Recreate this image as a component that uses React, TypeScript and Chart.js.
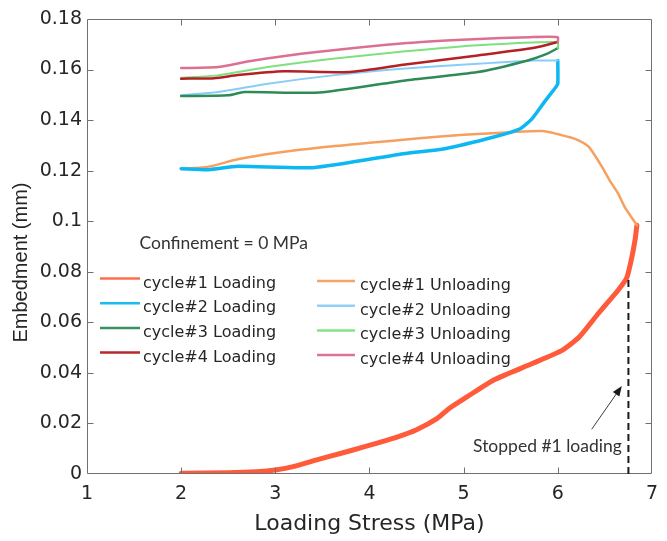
import React, { useEffect, useRef } from "react";
import { Chart, registerables } from "chart.js";

Chart.register(...registerables);

// ---- axes ----
const xMin = 1;
const xMax = 7;
const xStep = 1;
const yMin = 0;
const yMax = 0.18;
const yStep = 0.02;
const xTitle = "Loading Stress (MPa)";
const yTitle = "Embedment (mm)";

// ---- series ----
const c1LoadX = [2.0, 2.5, 2.8, 3.0, 3.2, 3.43, 3.7, 3.95, 4.3, 4.5, 4.72, 4.85, 5.04, 5.32, 5.73, 6.05, 6.23, 6.43, 6.64, 6.73, 6.78, 6.82, 6.84];
const c1LoadY = [0.0003, 0.0005, 0.0009, 0.0016, 0.003, 0.0055, 0.0082, 0.0108, 0.0147, 0.0175, 0.022, 0.026, 0.0306, 0.0372, 0.0437, 0.049, 0.0543, 0.0635, 0.0727, 0.0774, 0.0846, 0.0925, 0.0984];

const c1UnloadX = [6.84, 6.71, 6.64, 6.55, 6.47, 6.33, 6.22, 6.12, 5.84, 5.5, 5.0, 4.5, 4.0, 3.5, 3.0, 2.6, 2.28, 2.0];
const c1UnloadY = [0.0984, 0.1057, 0.111, 0.1162, 0.1215, 0.1294, 0.132, 0.1333, 0.1357, 0.1352, 0.1342, 0.1327, 0.131, 0.1293, 0.127, 0.1245, 0.1215, 0.1208];

const c2LoadX = [2.0, 2.29, 2.6, 3.4, 4.38, 4.8, 5.32, 5.6, 5.73, 5.87, 5.98, 6.0, 6.0];
const c2LoadY = [0.1208, 0.1204, 0.1217, 0.1212, 0.1268, 0.1287, 0.1333, 0.1366, 0.1407, 0.1478, 0.1531, 0.1544, 0.1636];

const c2UnloadX = [6.0, 5.75, 5.15, 4.38, 3.61, 2.92, 2.39, 2.0];
const c2UnloadY = [0.1636, 0.1636, 0.1623, 0.1604, 0.1577, 0.1544, 0.1511, 0.1498];

const c3LoadX = [2.0, 2.5, 2.67, 3.47, 4.38, 5.15, 5.68, 5.89, 6.0];
const c3LoadY = [0.1495, 0.1498, 0.1511, 0.1509, 0.1557, 0.159, 0.1636, 0.1663, 0.1685];

const c3UnloadX = [6.0, 6.0, 5.15, 4.38, 3.61, 2.92, 2.39, 2.0];
const c3UnloadY = [0.1685, 0.1709, 0.1696, 0.1672, 0.1643, 0.161, 0.1577, 0.1568];

const c4LoadX = [2.0, 2.35, 2.6, 3.09, 3.79, 4.38, 5.15, 5.75, 6.0];
const c4LoadY = [0.1564, 0.1566, 0.1578, 0.1593, 0.159, 0.162, 0.1656, 0.1686, 0.1709];

const c4UnloadX = [6.0, 6.0, 5.7, 5.1, 4.4, 3.44, 2.74, 2.39, 2.0];
const c4UnloadY = [0.1709, 0.1728, 0.1728, 0.172, 0.1705, 0.1669, 0.1634, 0.161, 0.1606];

const seriesLabels = [
  "cycle#1 Loading",
  "cycle#1 Unloading",
  "cycle#2 Loading",
  "cycle#2 Unloading",
  "cycle#3 Loading",
  "cycle#3 Unloading",
  "cycle#4 Loading",
  "cycle#4 Unloading",
];

// ---- annotations (data coordinates) ----
const confinementText = "Confinement = 0 MPa";
const confinementAt = [1.557, 0.0889];
const stopText = "Stopped #1 loading";
const stopTextAt = [6.68, 0.0088];
const stopLineX = 6.75;
const stopLineTopY = 0.0775;
const arrowTail = [6.36, 0.0177];
const arrowHead = [6.68, 0.0348];

// ---- styles ----
const seriesStyles = [
  { color: "#FF5B3B", width: 5 },
  { color: "#F5A05E", width: 2.5 },
  { color: "#0DB8F2", width: 3.5 },
  { color: "#86CDF7", width: 2 },
  { color: "#2E8B57", width: 2.5 },
  { color: "#7EE07E", width: 2 },
  { color: "#B52025", width: 2.5 },
  { color: "#DD6F90", width: 2.5 },
];
const legendColors = ["#FF6E52", "#F5A566", "#1ABCF2", "#8FD0F7", "#3A9160", "#86E286", "#B8282D", "#DD7394"];

const seriesData = [
  [c1LoadX, c1LoadY],
  [c1UnloadX, c1UnloadY],
  [c2LoadX, c2LoadY],
  [c2UnloadX, c2UnloadY],
  [c3LoadX, c3LoadY],
  [c3UnloadX, c3UnloadY],
  [c4LoadX, c4LoadY],
  [c4UnloadX, c4UnloadY],
];

const TEXT = "#262626";
const AXIS = "#707070";

const overlayPlugin = {
  id: "overlay",
  afterDraw(chart: any) {
    const { ctx, chartArea: a, scales } = chart;
    const xs = scales.x;
    const ys = scales.y;
    const L = Math.round(a.left) + 0.5;
    const R = Math.round(a.right) - 0.5;
    const T = Math.round(a.top) + 0.5;
    const B = Math.round(a.bottom) - 0.5;
    ctx.save();

    // box and inward ticks
    ctx.strokeStyle = AXIS;
    ctx.lineWidth = 1;
    ctx.beginPath();
    ctx.rect(L, T, R - L, B - T);
    const tl = 6;
    xs.ticks.forEach((t: any) => {
      if (t.value <= xMin || t.value >= xMax) return;
      const p = Math.round(xs.getPixelForValue(t.value)) + 0.5;
      ctx.moveTo(p, B);
      ctx.lineTo(p, B - tl);
      ctx.moveTo(p, T);
      ctx.lineTo(p, T + tl);
    });
    ys.ticks.forEach((t: any) => {
      if (t.value <= yMin + 1e-9 || t.value >= yMax - 1e-9) return;
      const p = Math.round(ys.getPixelForValue(t.value)) + 0.5;
      ctx.moveTo(L, p);
      ctx.lineTo(L + tl, p);
      ctx.moveTo(R, p);
      ctx.lineTo(R - tl, p);
    });
    ctx.stroke();

    // y title
    ctx.fillStyle = TEXT;
    ctx.font = "20px 'Liberation Sans', Arial, sans-serif";
    ctx.textAlign = "center";
    ctx.textBaseline = "middle";
    ctx.save();
    ctx.translate(a.left - 66, (a.top + a.bottom) / 2 + 16);
    ctx.rotate(-Math.PI / 2);
    ctx.fillText(yTitle, 0, 0);
    ctx.restore();

    // dashed stop line
    const sx = xs.getPixelForValue(stopLineX);
    ctx.strokeStyle = "#1a1a1a";
    ctx.lineWidth = 2;
    ctx.setLineDash([7, 4]);
    ctx.beginPath();
    ctx.moveTo(sx, ys.getPixelForValue(0));
    ctx.lineTo(sx, ys.getPixelForValue(stopLineTopY));
    ctx.stroke();
    ctx.setLineDash([]);

    // arrow
    const tx = xs.getPixelForValue(arrowTail[0]);
    const ty = ys.getPixelForValue(arrowTail[1]);
    const hx = xs.getPixelForValue(arrowHead[0]);
    const hy = ys.getPixelForValue(arrowHead[1]);
    const ang = Math.atan2(hy - ty, hx - tx);
    const hl = 10;
    const hw = 4;
    ctx.strokeStyle = "#3a3a3a";
    ctx.fillStyle = "#1a1a1a";
    ctx.lineWidth = 1;
    ctx.beginPath();
    ctx.moveTo(tx, ty);
    ctx.lineTo(hx - Math.cos(ang) * hl * 0.8, hy - Math.sin(ang) * hl * 0.8);
    ctx.stroke();
    ctx.beginPath();
    ctx.moveTo(hx, hy);
    ctx.lineTo(hx - Math.cos(ang) * hl - Math.sin(ang) * hw, hy - Math.sin(ang) * hl + Math.cos(ang) * hw);
    ctx.lineTo(hx - Math.cos(ang) * hl + Math.sin(ang) * hw, hy - Math.sin(ang) * hl - Math.cos(ang) * hw);
    ctx.closePath();
    ctx.fill();

    // annotation texts
    ctx.fillStyle = "#333333";
    ctx.font = "17.5px Lato, 'Open Sans', sans-serif";
    ctx.textBaseline = "alphabetic";
    ctx.textAlign = "left";
    ctx.fillText(confinementText, xs.getPixelForValue(confinementAt[0]), ys.getPixelForValue(confinementAt[1]));
    ctx.textAlign = "right";
    ctx.fillText(stopText, xs.getPixelForValue(stopTextAt[0]), ys.getPixelForValue(stopTextAt[1]));

    // legend (two columns: loading | unloading)
    ctx.font = "16px 'DejaVu Sans', sans-serif";
    ctx.textAlign = "left";
    ctx.textBaseline = "alphabetic";
    const cols = [
      { lineX0: a.left + 13, lineX1: a.left + 53, textX: a.left + 56, y0: a.top + 259.5 },
      { lineX0: a.left + 230, lineX1: a.left + 268, textX: a.left + 273, y0: a.top + 262 },
    ];
    const rowH = 24.7;
    seriesLabels.forEach((label, i) => {
      const col = cols[i % 2];
      const row = Math.floor(i / 2);
      const y = col.y0 + row * rowH;
      ctx.strokeStyle = legendColors[i];
      ctx.lineWidth = 2.5;
      ctx.beginPath();
      ctx.moveTo(col.lineX0, y);
      ctx.lineTo(col.lineX1, y);
      ctx.stroke();
      ctx.fillStyle = TEXT;
      ctx.fillText(label, col.textX, y + 9);
    });

    ctx.restore();
  },
};

export default function App() {
  const ref = useRef<HTMLCanvasElement | null>(null);

  useEffect(() => {
    if (!ref.current) return;
    const datasets = seriesData.map(([xsArr, ysArr], i) => ({
      label: seriesLabels[i],
      data: xsArr.map((x, j) => ({ x, y: ysArr[j] })),
      borderColor: seriesStyles[i].color,
      backgroundColor: seriesStyles[i].color,
      borderWidth: seriesStyles[i].width,
      pointRadius: 0,
      showLine: true,
      fill: false,
      tension: 0.2,
      borderJoinStyle: "round" as const,
      borderCapStyle: "round" as const,
      order: seriesData.length - i,
    }));

    const chart = new Chart(ref.current, {
      type: "scatter",
      data: { datasets },
      options: {
        animation: false,
        responsive: false,
        devicePixelRatio: 1,
        layout: { padding: { top: 19, right: 8, left: 0, bottom: 0 } },
        plugins: {
          legend: { display: false },
          tooltip: { enabled: false },
          title: { display: false },
        },
        scales: {
          x: {
            type: "linear",
            min: xMin,
            max: xMax,
            grid: { display: false, drawTicks: false },
            border: { display: false },
            ticks: {
              stepSize: xStep,
              color: TEXT,
              padding: 9,
              font: { family: "'DejaVu Sans', sans-serif", size: 19 },
              callback: (v: any) => String(Math.round(Number(v))),
            },
            title: {
              display: true,
              text: xTitle,
              color: TEXT,
              font: { family: "'DejaVu Sans', sans-serif", size: 22 },
              padding: { top: 0, bottom: 4 },
            },
            afterFit: (s: any) => {
              s.height = 67;
            },
          },
          y: {
            type: "linear",
            min: yMin,
            max: yMax,
            grid: { display: false, drawTicks: false },
            border: { display: false },
            ticks: {
              stepSize: yStep,
              color: TEXT,
              padding: 5,
              font: { family: "'DejaVu Sans', sans-serif", size: 19 },
              callback: (v: any) => String(Number(Number(v).toFixed(2))),
            },
            afterFit: (s: any) => {
              s.width = 87;
            },
          },
        },
      },
      plugins: [overlayPlugin],
    });
    return () => chart.destroy();
  }, []);

  return (
    <div style={{ position: "absolute", left: 0, top: 0, width: 667, height: 541, background: "#fff" }}>
      <canvas ref={ref} width={667} height={541} style={{ display: "block" }} />
    </div>
  );
}
